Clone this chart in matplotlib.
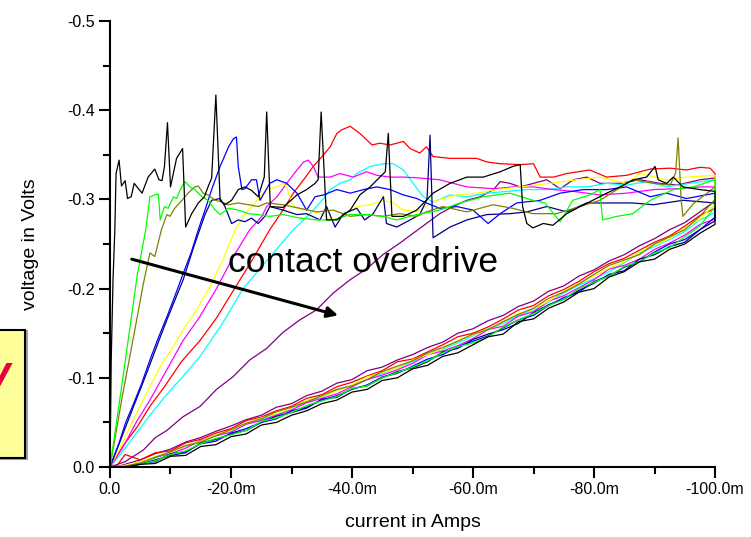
import numpy as np
import matplotlib
matplotlib.use("Agg")
import matplotlib.pyplot as plt
from matplotlib.patches import Rectangle
from matplotlib.ticker import FuncFormatter, MultipleLocator

plt.rcParams["font.family"] = ["Liberation Sans", "DejaVu Sans"]

# ── data: current magnitude in mA, voltage magnitude in V (plotted negative) ──

# forward sweeps (0 -> -100 mA)
BLACK_I = [0, 0.2, 0.5, 0.8, 1.0, 1.5, 1.9, 2.5, 2.9, 3.5, 4.0, 4.7, 5.3, 6.3, 7.4, 8.1,
           8.6, 9.0, 9.5, 10.0, 11.0, 12.0, 12.5, 13.5, 14.6, 15.6, 16.2, 16.8, 17.5,
           18.2, 19.0, 20.1, 21.2, 22.3, 23.4, 24.5, 25.5, 25.9, 26.5, 28.6, 30.9,
           32.5, 33.9, 34.4, 34.9, 35.8, 37.5, 39.7, 41.3, 43.0, 44.6, 45.5, 46.0,
           46.6, 48.5, 50.7, 53.4, 56.2, 59.0, 61.7, 64.5, 66.6, 67.8, 68.2, 68.9,
           69.9, 71.6, 73.2, 75.5, 77.7, 79.8, 82.1, 84.3, 86.5, 88.7, 90.1, 90.6,
           92.0, 93.1, 94.7, 97.5, 100]
BLACK_V = [0, 0.12, 0.21, 0.266, 0.329, 0.344, 0.315, 0.321, 0.301, 0.303, 0.318, 0.312,
           0.307, 0.325, 0.334, 0.322, 0.321, 0.337, 0.386, 0.314, 0.346, 0.357, 0.269,
           0.284, 0.296, 0.303, 0.314, 0.324, 0.417, 0.299, 0.294, 0.299, 0.311, 0.314,
           0.310, 0.303, 0.325, 0.398, 0.292, 0.291, 0.305, 0.311, 0.318, 0.322, 0.398,
           0.277, 0.277, 0.288, 0.305, 0.314, 0.325, 0.331, 0.374, 0.281, 0.281, 0.288,
           0.307, 0.318, 0.325, 0.325, 0.331, 0.337, 0.339, 0.292, 0.273, 0.268, 0.273,
           0.271, 0.284, 0.292, 0.299, 0.307, 0.314, 0.322, 0.325, 0.337, 0.322, 0.318,
           0.325, 0.314, 0.311, 0.309]

GREEN_I = [0, 1.5, 3.0, 4.5, 5.9, 6.6, 7.4, 8.0, 8.3, 9.0, 9.6, 10.5, 11.0, 11.6, 12.4,
           13.2, 14.0, 15.2, 16.2, 17.4, 18.2, 19.6, 21.2, 22.9, 24.5, 26.4, 28.6, 31.4,
           34.2, 36.9, 39.7, 42.4, 45.1, 47.4, 50.7, 54.5, 57.9, 61.7, 66.1, 69.9, 71.9,
           74.4, 76.5, 79.3, 81.0, 81.4, 83.8, 86.4, 89.3, 93.1, 96.4, 100]
GREEN_V = [0, 0.07, 0.142, 0.215, 0.266, 0.303, 0.305, 0.306, 0.277, 0.292, 0.290, 0.303,
           0.301, 0.311, 0.320, 0.314, 0.311, 0.303, 0.299, 0.288, 0.283, 0.290, 0.288,
           0.284, 0.283, 0.281, 0.283, 0.279, 0.277, 0.277, 0.283, 0.283, 0.281, 0.277,
           0.283, 0.288, 0.296, 0.303, 0.307, 0.299, 0.296, 0.275, 0.299, 0.305, 0.311,
           0.277, 0.281, 0.284, 0.299, 0.311, 0.314, 0.322]

OLIVE_I = [0, 2.0, 4.0, 5.5, 6.6, 7.4, 8.5, 9.4, 9.9, 10.7, 11.9, 12.9, 14.0, 14.6, 15.4,
           16.2, 17.4, 18.5, 19.6, 21.2, 22.9, 24.5, 25.9, 28.6, 31.4, 34.2, 36.9, 39.7,
           42.4, 45.1, 47.9, 50.7, 52.3, 55.0, 59.0, 63.3, 66.6, 69.9, 73.8, 77.7, 81.0,
           83.8, 86.4, 89.8, 92.6, 93.5, 93.9, 94.4, 94.7, 96.4, 98.3, 100]
OLIVE_V = [0, 0.078, 0.15, 0.205, 0.24, 0.236, 0.266, 0.283, 0.281, 0.290, 0.299, 0.307,
           0.314, 0.315, 0.307, 0.305, 0.299, 0.297, 0.294, 0.296, 0.294, 0.292, 0.296,
           0.294, 0.290, 0.286, 0.288, 0.281, 0.283, 0.281, 0.284, 0.281, 0.286, 0.292,
           0.286, 0.294, 0.290, 0.284, 0.284, 0.292, 0.299, 0.311, 0.322, 0.318, 0.316,
           0.330, 0.369, 0.300, 0.281, 0.295, 0.305, 0.314]

BLUE_I = [0, 1.5, 2.6, 3.9, 5.2, 6.6, 8.0, 9.5, 10.8, 12.1, 13.4, 14.6, 15.7, 16.8, 18.2,
          19.6, 20.4, 20.9, 21.2, 21.8, 22.3, 23.4, 24.2, 24.8, 26.4, 27.6, 29.2, 30.9,
          32.5, 33.9, 35.3, 37.5, 39.7, 41.9, 44.1, 46.3, 48.5, 50.7, 52.3, 54.5, 57.3,
          60.0, 62.5, 64.5, 67.2, 71.1, 74.4, 78.2, 82.1, 85.4, 89.3, 92.0, 95.3, 100]
BLUE_V = [0, 0.027, 0.05, 0.071, 0.093, 0.12, 0.145, 0.17, 0.193, 0.217, 0.24, 0.266,
          0.288, 0.311, 0.337, 0.359, 0.368, 0.370, 0.337, 0.311, 0.312, 0.322, 0.322,
          0.299, 0.318, 0.322, 0.318, 0.307, 0.288, 0.303, 0.305, 0.311, 0.307, 0.311,
          0.314, 0.311, 0.305, 0.301, 0.296, 0.290, 0.292, 0.288, 0.273, 0.284, 0.296,
          0.299, 0.307, 0.311, 0.311, 0.314, 0.303, 0.307, 0.301, 0.307]

NAVY_I = [0, 1.4, 2.7, 3.9, 5.3, 6.6, 8.1, 9.4, 10.9, 12.1, 13.9, 15.7, 16.8, 18.2, 19.0,
          20.1, 21.2, 22.3, 23.4, 24.5, 25.6, 26.4, 28.6, 30.9, 32.5, 34.7, 35.8, 37.2,
          38.6, 40.8, 42.1, 43.5, 45.2, 45.7, 47.4, 49.6, 51.2, 52.4, 52.9, 53.4, 56.2,
          59.0, 62.3, 66.1, 68.9, 72.2, 75.5, 78.8, 82.1, 86.4, 89.8, 94.7, 100]
NAVY_V = [0, 0.024, 0.047, 0.068, 0.092, 0.115, 0.142, 0.165, 0.19, 0.21, 0.248, 0.283,
          0.299, 0.301, 0.292, 0.273, 0.277, 0.275, 0.279, 0.273, 0.281, 0.292, 0.288,
          0.283, 0.284, 0.277, 0.292, 0.269, 0.284, 0.290, 0.277, 0.284, 0.303, 0.273,
          0.269, 0.277, 0.283, 0.300, 0.372, 0.257, 0.269, 0.277, 0.283, 0.284, 0.286,
          0.292, 0.286, 0.296, 0.296, 0.296, 0.294, 0.299, 0.296]

YELLOW_I = [0, 2.0, 4.2, 6.6, 8.5, 10.3, 12.1, 14.2, 16.5, 18.7, 20.7, 22.3, 23.7, 25.1,
            25.9, 27.6, 28.6, 29.2, 30.0, 30.9, 32.5, 34.7, 36.9, 39.1, 40.8, 43.0, 45.2,
            46.8, 48.5, 50.7, 54.0, 57.3, 60.6, 63.9, 67.8, 72.7, 77.1, 81.0, 85.4, 87.6,
            92.0, 95.3, 100]
YELLOW_V = [0, 0.026, 0.058, 0.09, 0.115, 0.133, 0.154, 0.175, 0.202, 0.233, 0.266, 0.284,
            0.294, 0.305, 0.311, 0.314, 0.318, 0.314, 0.296, 0.290, 0.288, 0.284, 0.277,
            0.284, 0.292, 0.294, 0.299, 0.296, 0.288, 0.286, 0.299, 0.305, 0.307, 0.311,
            0.314, 0.318, 0.322, 0.325, 0.318, 0.329, 0.322, 0.325, 0.327]

MAGENTA_I = [0, 2.2, 4.4, 6.6, 9.3, 12.1, 14.8, 17.6, 20.4, 23.1, 25.1, 25.9, 27.6, 29.2,
             30.9, 32.0, 32.8, 33.6, 34.4, 36.4, 38.0, 40.2, 42.4, 44.1, 46.3, 48.5, 51.2,
             54.5, 59.0, 63.4, 66.7, 70.0, 73.3, 76.6, 81.0, 85.4, 89.8, 93.7, 97.5, 100]
MAGENTA_V = [0, 0.023, 0.051, 0.075, 0.108, 0.142, 0.168, 0.20, 0.236, 0.266, 0.281, 0.292,
             0.303, 0.318, 0.333, 0.342, 0.344, 0.337, 0.325, 0.325, 0.329, 0.325, 0.331,
             0.327, 0.325, 0.325, 0.324, 0.322, 0.314, 0.312, 0.314, 0.314, 0.311, 0.309,
             0.305, 0.307, 0.311, 0.312, 0.314, 0.314]

RED_I = [0, 2.4, 4.5, 6.6, 9.0, 11.8, 14.9, 17.6, 20.4, 23.5, 26.4, 28.6, 30.3, 32.0,
         33.6, 35.3, 36.4, 37.5, 38.3, 39.7, 40.5, 41.3, 42.4, 43.3, 44.6, 46.3, 48.5,
         49.6, 51.2, 52.3, 53.4, 56.2, 60.6, 62.3, 64.5, 67.8, 70.0, 71.1, 73.3, 75.5,
         79.3, 82.1, 85.4, 89.3, 92.6, 95.3, 97.5, 99.2, 100]
RED_V = [0, 0.026, 0.045, 0.068, 0.09, 0.118, 0.142, 0.167, 0.198, 0.232, 0.266, 0.288,
         0.307, 0.322, 0.337, 0.350, 0.359, 0.374, 0.378, 0.382, 0.378, 0.374, 0.367,
         0.361, 0.363, 0.361, 0.365, 0.357, 0.352, 0.359, 0.348, 0.346, 0.346, 0.342,
         0.340, 0.339, 0.340, 0.325, 0.325, 0.329, 0.333, 0.325, 0.327, 0.334, 0.335,
         0.333, 0.336, 0.335, 0.329]

CYAN_I = [0, 2.5, 4.6, 6.6, 9.2, 12.0, 14.9, 18.5, 22.0, 26.0, 30.3, 32.0, 33.6, 35.3,
          36.4, 38.0, 39.7, 40.8, 43.0, 45.2, 46.8, 48.5, 50.1, 51.8, 53.4, 56.2, 59.0,
          62.3, 65.6, 68.9, 72.2, 75.5, 78.8, 82.1, 85.4, 88.7, 92.0, 95.9, 100]
CYAN_V = [0, 0.021, 0.04, 0.058, 0.08, 0.101, 0.124, 0.16, 0.20, 0.232, 0.266, 0.277,
          0.288, 0.301, 0.311, 0.318, 0.322, 0.329, 0.337, 0.340, 0.340, 0.333, 0.318,
          0.303, 0.297, 0.305, 0.303, 0.307, 0.309, 0.311, 0.311, 0.314, 0.314, 0.318,
          0.316, 0.320, 0.314, 0.318, 0.322]

PURPLE_I = [0, 2.5, 5.5, 7.5, 9.4, 12.0, 14.9, 17.6, 20.3, 23.1, 25.9, 28.6, 31.4, 34.1,
            36.9, 39.7, 42.4, 45.1, 47.9, 50.1, 52.3, 54.5, 56.7, 59.0, 61.2, 63.4, 64.5,
            66.1, 67.8, 70.0, 72.2, 74.4, 76.6, 78.8, 81.0, 84.3, 87.6, 90.9, 93.7, 97.5,
            100]
PURPLE_V = [0, 0.006, 0.019, 0.033, 0.041, 0.056, 0.068, 0.087, 0.101, 0.12, 0.133, 0.151,
            0.165, 0.176, 0.195, 0.21, 0.222, 0.238, 0.251, 0.262, 0.273, 0.284, 0.292,
            0.299, 0.303, 0.311, 0.320, 0.318, 0.314, 0.318, 0.322, 0.312, 0.322, 0.325,
            0.318, 0.318, 0.322, 0.318, 0.316, 0.322, 0.324]

# return sweeps (-100 mA -> 0), shared current grid
RET_I = [100, 97.5, 95, 92.5, 90, 87.5, 85, 82.5, 80, 77.5, 75, 72.5, 70, 67.5, 65, 62.5,
         60, 57.5, 55, 52.5, 50, 47.5, 45, 42.5, 40, 37.5, 35, 32.5, 30, 27.5, 25, 22.5,
         20, 17.5, 15, 12.5, 10, 7.5, 5, 2.5, 1.0]
BLACK_RV = [.272, .262, .250, .244, .233, .230, .219, .213, .200, .196, .185, .178, .166,
            .163, .149, .146, .137, .128, .124, .114, .110, .100, .097, .087, .084, .075,
            .071, .063, .058, .050, .047, .037, .034, .025, .023, .013, .012, .004, .003,
            0, 0]
GREEN_RV = [.292, .270, .258, .246, .240, .230, .225, .214, .207, .200, .188, .181, .172,
            .165, .157, .146, .139, .135, .128, .119, .112, .106, .100, .091, .088, .079,
            .074, .069, .061, .055, .051, .041, .036, .032, .026, .018, .014, .007, .003,
            0, 0]
OLIVE_RV = [.300, .281, .266, .258, .250, .238, .232, .226, .216, .205, .196, .189, .178,
            .171, .163, .154, .149, .141, .134, .128, .119, .113, .107, .098, .091, .087,
            .080, .073, .067, .062, .054, .049, .042, .035, .028, .024, .017, .011, .004,
            .001, 0]
BLUE_RV = [.280, .266, .255, .250, .241, .230, .224, .214, .208, .196, .190, .181, .170,
           .165, .156, .147, .141, .135, .126, .121, .113, .105, .101, .092, .087, .080,
           .075, .067, .063, .054, .050, .043, .038, .029, .026, .017, .015, .006, .004,
           0, 0]
NAVY_RV = [.276, .266, .252, .247, .238, .233, .220, .216, .206, .198, .188, .182, .173,
           .161, .154, .149, .143, .133, .129, .118, .111, .107, .100, .091, .088, .078,
           .076, .066, .061, .057, .050, .041, .037, .031, .027, .016, .013, .008, .003,
           0, 0]
YELLOW_RV = [.295, .278, .268, .256, .249, .241, .230, .223, .214, .206, .197, .186, .177,
             .172, .163, .154, .148, .142, .133, .126, .120, .111, .106, .101, .092, .085,
             .079, .075, .066, .060, .055, .049, .041, .036, .029, .024, .016, .012, .006,
             .002, 0]
MAGENTA_RV = [.278, .272, .260, .251, .244, .233, .226, .222, .210, .201, .192, .186, .174,
              .169, .158, .154, .144, .136, .130, .126, .116, .109, .103, .098, .090, .082,
              .077, .072, .064, .058, .052, .048, .039, .035, .030, .021, .015, .011, .006,
              .001, 0]
RED_RV = [.290, .282, .270, .259, .252, .243, .234, .228, .219, .208, .199, .192, .181,
          .176, .166, .157, .150, .146, .137, .129, .121, .118, .108, .102, .095, .090,
          .081, .077, .068, .063, .056, .052, .043, .038, .031, .027, .018, .016, .008,
          .014, 0]
CYAN_RV = [.285, .277, .264, .255, .247, .240, .229, .219, .211, .204, .195, .185, .176,
           .170, .161, .155, .147, .139, .132, .127, .118, .111, .105, .098, .091, .087,
           .078, .073, .066, .059, .053, .048, .040, .035, .028, .023, .017, .010, .005,
           .001, 0]
PURPLE_RV = [.298, .286, .274, .266, .256, .248, .238, .231, .221, .214, .203, .197, .186,
             .180, .170, .164, .155, .150, .140, .134, .126, .120, .112, .108, .098, .094,
             .085, .080, .071, .067, .058, .053, .046, .040, .033, .028, .020, .015, .008,
             .003, 0]

CURVES = [
    ("#800080", PURPLE_I, PURPLE_V, PURPLE_RV),
    ("#00FFFF", CYAN_I, CYAN_V, CYAN_RV),
    ("#FF0000", RED_I, RED_V, RED_RV),
    ("#FF00FF", MAGENTA_I, MAGENTA_V, MAGENTA_RV),
    ("#FFFF00", YELLOW_I, YELLOW_V, YELLOW_RV),
    ("#000080", NAVY_I, NAVY_V, NAVY_RV),
    ("#0000FF", BLUE_I, BLUE_V, BLUE_RV),
    ("#808000", OLIVE_I, OLIVE_V, OLIVE_RV),
    ("#00FF00", GREEN_I, GREEN_V, GREEN_RV),
    ("#000000", BLACK_I, BLACK_V, BLACK_RV),
]

X_TICKS = [0, -0.02, -0.04, -0.06, -0.08, -0.1]
Y_TICKS = [0, -0.1, -0.2, -0.3, -0.4, -0.5]


def fmt_current(v, _pos):
    if abs(v) < 1e-12:
        return "0.0"
    return f"{v * 1000:.1f}m"


def fmt_voltage(v, _pos):
    if abs(v) < 1e-12:
        return "0.0"
    return f"{v:.1f}"


fig = plt.figure(figsize=(7.51, 5.37), dpi=100)
ax = fig.add_axes([110 / 751, 70 / 537, 605 / 751, 446 / 537])

for color, fi, fv, rv in CURVES:
    cur = -np.concatenate([fi, RET_I]) / 1000.0
    volt = -np.concatenate([fv, rv])
    ax.plot(cur, volt, color=color, lw=0.9, clip_on=False)

ax.set_xlim(0, -0.1)
ax.set_ylim(0, -0.5)
ax.set_xticks(X_TICKS)
ax.set_yticks(Y_TICKS)
ax.xaxis.set_minor_locator(MultipleLocator(0.01))
ax.yaxis.set_minor_locator(MultipleLocator(0.05))
ax.xaxis.set_major_formatter(FuncFormatter(fmt_current))
ax.yaxis.set_major_formatter(FuncFormatter(fmt_voltage))

for side in ("top", "right"):
    ax.spines[side].set_visible(False)
for side in ("left", "bottom"):
    ax.spines[side].set_linewidth(1.5)
ax.tick_params(which="major", direction="out", length=8, width=1.5, labelsize=11.5, pad=3)
ax.tick_params(which="minor", direction="out", length=5, width=1.5)

ax.set_xlabel("current in Amps", fontsize=14, labelpad=12)
ax.set_ylabel("voltage in Volts", fontsize=14, labelpad=20)

# annotation
ax.annotate("", xy=(-0.0377, -0.170), xytext=(-0.0036, -0.233),
            arrowprops=dict(arrowstyle="-|>", color="black", lw=2.2,
                            mutation_scale=16, shrinkA=0, shrinkB=0))
ax.text(-0.0418, -0.229, "contact overdrive", fontsize=25.5, ha="center", va="center")

# clipped callout box on the left edge
fig.patches.append(Rectangle((-58 / 751, (537 - 460) / 537), 86 / 751, 130 / 537,
                             transform=fig.transFigure, facecolor="#A0A0A0",
                             edgecolor="none", zorder=0))
fig.patches.append(Rectangle((-60 / 751, (537 - 458) / 537), 85 / 751, 128 / 537,
                             transform=fig.transFigure, facecolor="#FFFF99",
                             edgecolor="black", lw=1.5, zorder=1))
fig.text(9 / 751, (537 - 392) / 537, "V", fontsize=30, fontstyle="italic",
         fontweight="bold", color="#E8003D", ha="right", va="baseline")

fig.savefig("out.png", dpi=100)
